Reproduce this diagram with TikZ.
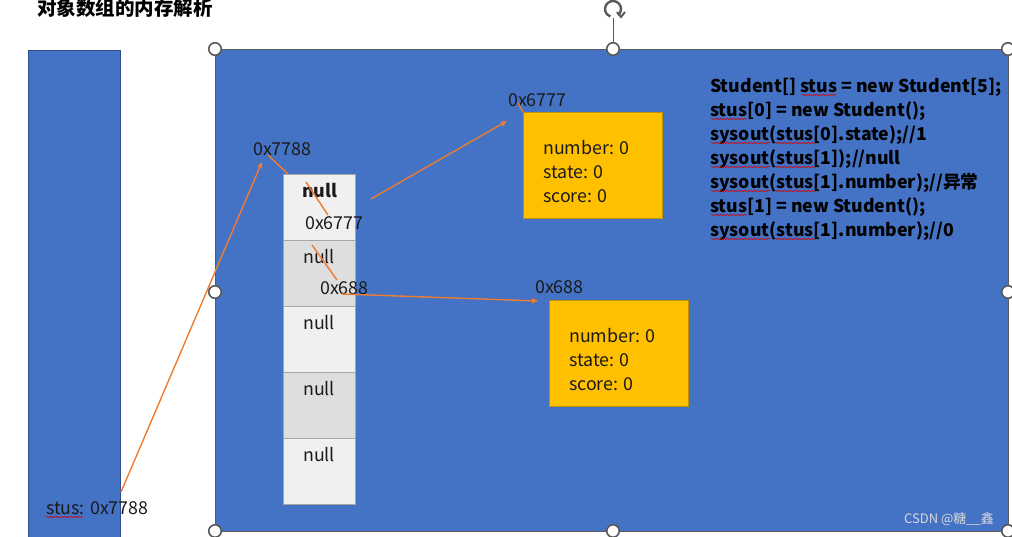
\documentclass[tikz,border=0pt]{standalone}
\usepackage{fontspec}
\setmainfont{Noto Sans CJK SC}
\usetikzlibrary{arrows.meta,decorations.pathmorphing}
\definecolor{blu}{HTML}{4472C4}
\definecolor{bluedge}{HTML}{2F528F}
\definecolor{orng}{HTML}{ED7D31}
\definecolor{gold}{HTML}{FFC000}
\definecolor{goldedge}{HTML}{BF9000}
\definecolor{celllight}{HTML}{F0F0F0}
\definecolor{celldark}{HTML}{DEDEDE}
\definecolor{celledge}{HTML}{A6A6A6}
\definecolor{handle}{HTML}{5A5A5A}
\definecolor{txt}{HTML}{1A1A1A}
\tikzset{
  lbl/.style={inner sep=0pt, anchor=west, text=txt, font=\fontsize{17.8}{20}\selectfont},
  objtxt/.style={lbl, anchor=north west, align=left, font=\fontsize{17.8}{24}\selectfont},
  code/.style={inner sep=0pt, anchor=base west, text=black, font=\bfseries\fontsize{17.7}{20}\selectfont},
  cellbox/.style={draw=celledge, line width=0.8pt, minimum width=72pt, minimum height=66pt, inner sep=0pt},
  objbox/.style={draw=goldedge, fill=gold, line width=0.8pt, minimum width=139pt, minimum height=106pt, inner sep=0pt},
  ptr/.style={draw=orng, line width=1.4pt},
  ptrarrow/.style={ptr, -{Triangle[length=6pt,width=5pt]}},
  hnd/.style={circle, draw=handle, fill=white, line width=1.6pt, minimum size=12.5pt, inner sep=0pt},
  squig/.style={draw=red!85!black, line width=0.5pt, decorate, decoration={snake, segment length=3pt, amplitude=0.8pt}}
}
\begin{document}
\begin{tikzpicture}[x=1pt,y=-1pt]
\useasboundingbox (0,0) rectangle (1012,536);
\begin{scope}
\clip (0,0) rectangle (1012,536);
% title
\node[inner sep=0pt, anchor=west, font=\bfseries\fontsize{19.5}{22}\selectfont] (title) at (37,8) {对象数组的内存解析};
% left stack
\node[draw=bluedge, fill=blu, line width=0.8pt, minimum width=92pt, minimum height=500pt, inner sep=0pt, anchor=north west] (stack) at (28,50) {};
% heap
\node[draw=handle, fill=blu, line width=1pt, minimum width=793pt, minimum height=482pt, inner sep=0pt, anchor=north west] (heap) at (215,49) {};
% rotation handle
\coordinate (rot) at (613,9);
\draw[handle, line width=1pt] (613,18) -- (613,49);
\draw[handle, line width=2.4pt] (rot) ++(50:8) arc[start angle=50, end angle=-250, radius=8];
\draw[handle, line width=2pt, line join=miter] (rot) ++(4,3) -- ++(4,5) -- ++(4,-5);
% array cells
\node[cellbox, fill=celllight, anchor=north west] (c0) at (283,174) {};
\node[cellbox, fill=celldark, anchor=north west] (c1) at (283,240) {};
\node[cellbox, fill=celllight, anchor=north west] (c2) at (283,306) {};
\node[cellbox, fill=celldark, anchor=north west] (c3) at (283,372) {};
\node[cellbox, fill=celllight, anchor=north west] (c4) at (283,438) {};
\node[lbl, font=\bfseries\fontsize{17.8}{20}\selectfont] (n0) at (302,191) {null};
\node[lbl] (a0) at (305,223) {0x6777};
\node[lbl] (n1) at (303,257) {null};
\node[lbl] (a1) at (320,288) {0x688};
\node[lbl] (n2) at (303,323) {null};
\node[lbl] (n3) at (303,389) {null};
\node[lbl] (n4) at (303,455) {null};
% array address
\node[lbl] (arradr) at (253,149) {0x7788};
% objects
\node[objbox, anchor=north west] (o1) at (523,112) {};
\node[objtxt] (o1t) at (543,140) {number: 0\\state: 0\\score: 0};
\node[lbl] (o1adr) at (508,100) {0x6777};
\node[objbox, anchor=north west] (o2) at (549,300) {};
\node[objtxt] (o2t) at (569,328) {number: 0\\state: 0\\score: 0};
\node[lbl] (o2adr) at (535,287) {0x688};
% stack variable
\node[lbl] (var) at (46,508) {stus: 0x7788};
% code
\node[code] (l1) at (710,92) {Student[] stus = new Student[5];};
\node[code] (l2) at (710,116) {stus[0] = new Student();};
\node[code] (l3) at (710,140) {sysout(stus[0].state);//1};
\node[code] (l4) at (710,164) {sysout(stus[1]);//null};
\node[code] (l5) at (710,188) {sysout(stus[1].number);//异常};
\node[code] (l6) at (710,212) {stus[1] = new Student();};
\node[code] (l7) at (710,236) {sysout(stus[1].number);//0};
% spell-check squiggles
\draw[squig] (801,95) -- (836,95);
\draw[squig] (711,119) -- (747,119);
\draw[squig] (711,143) -- (770,143); \draw[squig] (775,143) -- (815,143);
\draw[squig] (711,167) -- (770,167); \draw[squig] (775,167) -- (815,167);
\draw[squig] (711,191) -- (770,191); \draw[squig] (775,191) -- (815,191);
\draw[squig] (711,215) -- (747,215);
\draw[squig] (711,239) -- (770,239); \draw[squig] (775,239) -- (815,239);
\draw[squig] (46,517) -- (83,517);
% watermark
\node[inner sep=0pt, text=white!85!black, font=\fontsize{13}{15}\selectfont] (wm) at (949,519) {CSDN @糖\_\_鑫};
% connectors
\coordinate (p1s) at (121,492); \coordinate (p1e) at (262,162);
\draw[ptrarrow] (p1s) -- (p1e);
\coordinate (p2s) at (268,155); \coordinate (p2e) at (288,174);
\draw[ptr] (p2s) -- (p2e);
\coordinate (p3s) at (306,182); \coordinate (p3e) at (328,215);
\draw[ptr] (p3s) -- (p3e);
\coordinate (p4s) at (371,199); \coordinate (p4e) at (507,121);
\draw[ptrarrow] (p4s) -- (p4e);
\coordinate (p5s) at (518,103); \coordinate (p5e) at (523,112);
\draw[ptr] (p5s) -- (p5e);
\coordinate (p6s) at (312,245); \coordinate (p6e) at (337,280);
\draw[ptr] (p6s) -- (p6e);
\coordinate (p7s) at (342,294); \coordinate (p7e) at (538,301);
\draw[ptrarrow] (p7s) -- (p7e);
% selection handles
\foreach \nm/\px/\py in {h1/215/49, h2/613/49, h3/1008/49, h4/215/292, h5/1008/292, h6/215/531, h7/613/531, h8/1008/531}
  \node[hnd] (\nm) at (\px,\py) {};
\end{scope}
\end{tikzpicture}
\end{document}
